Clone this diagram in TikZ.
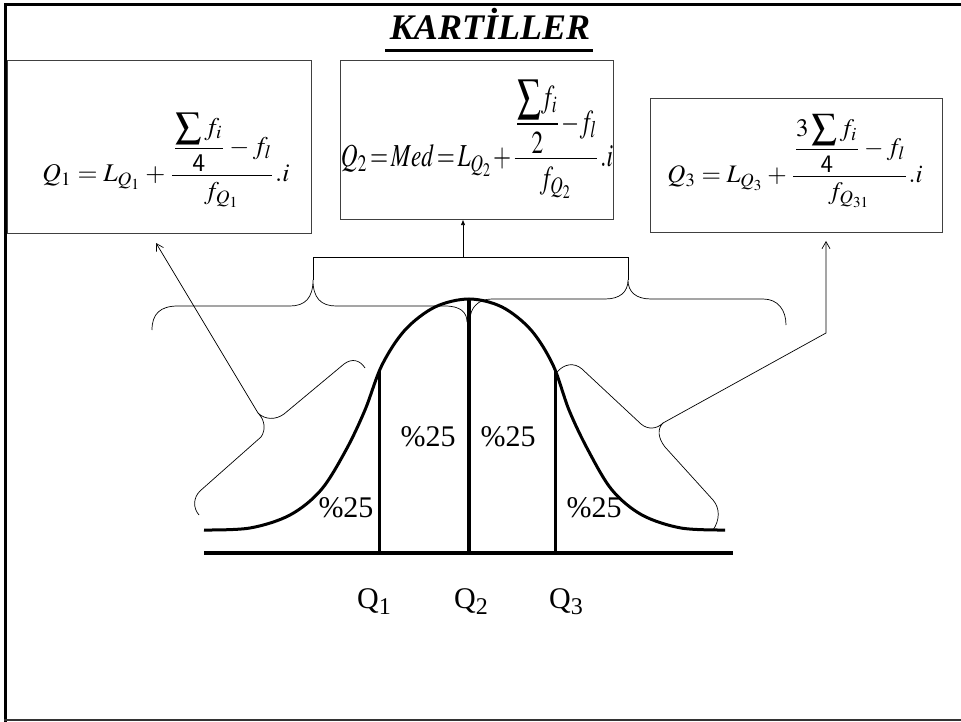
\documentclass[tikz,border=0pt]{standalone}
\usepackage{amsmath}
\usepackage{mathptmx}
\usepackage{fontspec}
\setmainfont{Liberation Serif}
\usepackage{graphicx}
\usetikzlibrary{arrows.meta}
\newcommand{\qsub}[1]{Q\raisebox{-6pt}{\fontsize{24}{26}\selectfont #1}}
\begin{document}
\begin{tikzpicture}[x=1pt,y=-1pt,
  frameline/.style={line width=3pt,black},
  fbox/.style={draw=black!75,line width=1.1pt,inner sep=0pt,anchor=north west},
  formula/.style={inner sep=0pt},
  brace/.style={line width=0.7pt},
  bell/.style={line width=3pt},
  ptr/.style={line width=0.7pt,-{Straight Barb[length=7pt,width=8pt]}},
  ptrb/.style={line width=0.7pt,-{Triangle[length=5pt,width=4pt]}},
  pct/.style={font=\fontsize{30}{34}\selectfont,inner sep=0pt},
  qlab/.style={font=\fontsize{30}{34}\selectfont,inner sep=0pt,anchor=base}]
\useasboundingbox (0,0) rectangle (961,722);
% frame
\draw[frameline] (5.5,722) -- (5.5,4.5) -- (961,4.5);
\draw[line width=2pt,black!80] (4,720) -- (961,720);
% title
\node[font=\fontsize{36}{40}\selectfont\bfseries\itshape,anchor=base,inner sep=0pt] (title) at (490,40) {KARTİLLER};
\draw[line width=3pt] (385,50.5) -- (593,50.5);
% boxes
\node[fbox,minimum width=304pt,minimum height=173pt] (box1) at (7,60) {};
\node[fbox,minimum width=273pt,minimum height=159pt] (box2) at (340,60) {};
\node[fbox,minimum width=292pt,minimum height=134pt] (box3) at (650,98) {};
% formulas
\node[formula] (f1) at (166,160) {\resizebox*{247pt}{94pt}{$\displaystyle Q_1 = L_{Q_1} + \frac{\dfrac{\displaystyle\sum f_i}{\mathsf{4}} - f_l}{f_{Q_1}}.i$}};
\node[formula] (f2) at (477,139) {\resizebox*{272pt}{118pt}{$\displaystyle Q_2\!=\!Med\!=\!L_{Q_2}\!+\!\frac{\dfrac{\displaystyle\sum\! f_i}{2}\!-\!f_l}{f_{Q_2}}.i$}};
\node[formula] (f3) at (795,161) {\resizebox*{255pt}{93pt}{$\displaystyle Q_3 = L_{Q_3} + \frac{\dfrac{3\displaystyle\sum f_i}{\mathsf{4}} - f_l}{f_{Q_{31}}}.i$}};
% axis
\draw[line width=4pt] (204,553) -- (733,553);
% bell curve
\draw[bell] plot[smooth,tension=0.55] coordinates {(204,530) (250,528) (290,515) (321,490) (346,450) (365,410) (382,365) (405,330) (435,307) (469,299) (502,307) (531,330) (553,365) (569,410) (588,450) (612,490) (642,515) (681,528) (725,530)};
% quartile lines
\draw[line width=3pt] (379,371) -- (379,553);
\draw[line width=4pt] (469,299) -- (469,553);
\draw[line width=3pt] (555,371) -- (555,553);
% percent labels
\node[pct] (p1) at (346,508) {\%25};
\node[pct] (p2) at (428,437) {\%25};
\node[pct] (p3) at (508,437) {\%25};
\node[pct] (p4) at (594,508) {\%25};
% Q labels
\node[qlab] (q1) at (374,608) {\qsub{1}};
\node[qlab] (q2) at (471,608) {\qsub{2}};
\node[qlab] (q3) at (566,608) {\qsub{3}};
% brace A (left, tip up)
\draw[brace] (152,330) .. controls (152,314) and (160,306) .. (178,306) -- (290,306)
  .. controls (305,306) and (313,298) .. (313,280)
  .. controls (313,298) and (321,306) .. (336,306) -- (445,306)
  .. controls (460,306) and (467,312) .. (467,322);
% brace C (right, tip up)
\draw[brace] (470,320) .. controls (470,308) and (478,299) .. (492,299) -- (605,299)
  .. controls (620,299) and (628,292) .. (628,280)
  .. controls (628,292) and (636,299) .. (651,299) -- (763,299)
  .. controls (778,299) and (786,310) .. (786,325);
% brace B (top bracket)
\coordinate (tipB) at (463,257);
\draw[brace] (313,280) -- (313,257) -- (628,257) -- (628,280);
\draw[ptrb] (tipB) -- (tipB |- box2.south);
% brace D (left diagonal)
\coordinate (tipD) at (258,413);
\draw[brace] (365,368) .. controls (360,360) and (352,358) .. (344,364) -- (284,414)
  .. controls (276,420) and (265,420) .. (tipD)
  .. controls (265,420) and (266,430) .. (261,437) -- (200,491)
  .. controls (193,498) and (193,508) .. (199,515);
\coordinate (endD) at (156,243);
\draw[ptr] (tipD) -- (endD);
% brace E (right diagonal)
\coordinate (tipE) at (663,423);
\draw[brace] (557,372) .. controls (564,364) and (574,362) .. (582,369) -- (641,424)
  .. controls (648,430) and (657,429) .. (tipE)
  .. controls (657,429) and (658,438) .. (665,447) -- (713,500)
  .. controls (720,508) and (720,520) .. (713,530);
\coordinate (bendE) at (826,333);
\coordinate (endE) at (826,241);
\draw[ptr] (tipE) -- (bendE) -- (endE);
\end{tikzpicture}
\end{document}
